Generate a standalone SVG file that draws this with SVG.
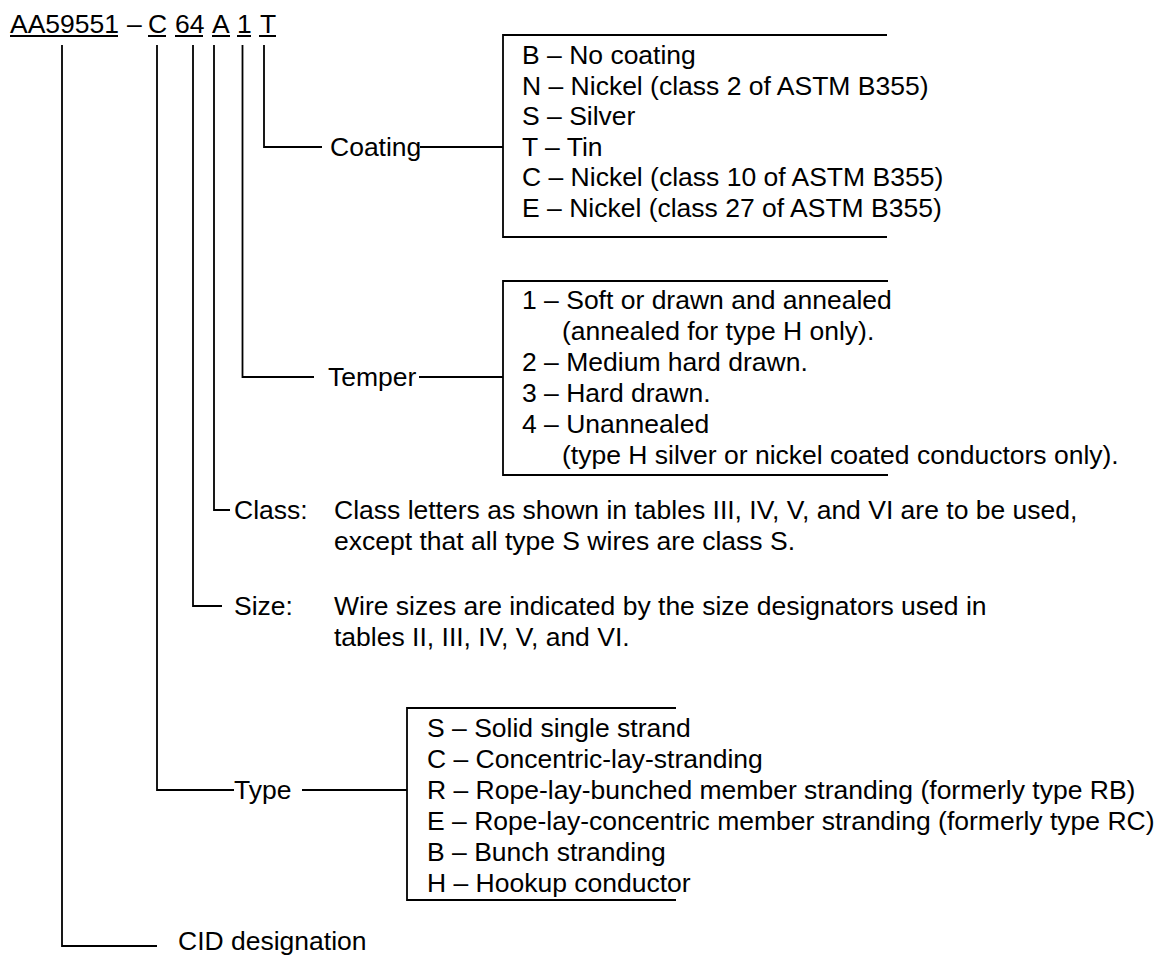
<svg xmlns="http://www.w3.org/2000/svg" width="1160" height="956" viewBox="0 0 1160 956">
<style>
text{font-family:"Liberation Sans",Arial,sans-serif;font-size:26.5px;fill:#000}
.ln{stroke:#000;stroke-width:1.8;fill:none}
</style>
<rect width="1160" height="956" fill="#fff"/>
<g id="header">
<text x="10" y="33">AA59551</text>
<text x="127" y="33">–</text>
<text x="148" y="33">C</text>
<text x="175" y="33">64</text>
<text x="212" y="33">A</text>
<text x="237" y="33">1</text>
<text x="260" y="33">T</text>
<path class="ln" d="M10 36H118M148 36H166M175 36H203M212 36H230M237 36H251M259 36H276"/>
</g>
<g id="connectors">
<path class="ln" d="M62 45V946H157"/>
<path class="ln" d="M157 45V790H234M302 790H407"/>
<path class="ln" d="M193 45V606H222"/>
<path class="ln" d="M214 45V510H230"/>
<path class="ln" d="M242.5 45V377H314M419 377H503"/>
<path class="ln" d="M264 45V147H322M420 147H503"/>
</g>
<g id="coating">
<text x="330" y="156">Coating</text>
<path class="ln" d="M887 35H503V237H887"/>
<text x="522" y="64">B – No coating</text>
<text x="522" y="94.5">N – Nickel (class 2 of ASTM B355)</text>
<text x="522" y="125">S – Silver</text>
<text x="522" y="155.5">T – Tin</text>
<text x="522" y="186">C – Nickel (class 10 of ASTM B355)</text>
<text x="522" y="216.5">E – Nickel (class 27 of ASTM B355)</text>
</g>
<g id="temper">
<text x="328" y="386">Temper</text>
<path class="ln" d="M888 281H503V475H888"/>
<text x="522" y="309">1 – Soft or drawn and annealed</text>
<text x="562" y="340">(annealed for type H only).</text>
<text x="522" y="371">2 – Medium hard drawn.</text>
<text x="522" y="402">3 – Hard drawn.</text>
<text x="522" y="433">4 – Unannealed</text>
<text x="562" y="464">(type H silver or nickel coated conductors only).</text>
</g>
<g id="class">
<text x="234" y="519">Class:</text>
<text x="334" y="519">Class letters as shown in tables III, IV, V, and VI are to be used,</text>
<text x="334" y="550">except that all type S wires are class S.</text>
</g>
<g id="size">
<text x="234" y="615">Size:</text>
<text x="334" y="615">Wire sizes are indicated by the size designators used in</text>
<text x="334" y="646">tables II, III, IV, V, and VI.</text>
</g>
<g id="type">
<text x="234" y="799">Type</text>
<path class="ln" d="M676 708H407V900H676"/>
<text x="427" y="737">S – Solid single strand</text>
<text x="427" y="768">C – Concentric-lay-stranding</text>
<text x="427" y="799">R – Rope-lay-bunched member stranding (formerly type RB)</text>
<text x="427" y="830">E – Rope-lay-concentric member stranding (formerly type RC)</text>
<text x="427" y="861">B – Bunch stranding</text>
<text x="427" y="892">H – Hookup conductor</text>
</g>
<g id="cid">
<text x="178" y="950">CID designation</text>
</g>
</svg>
